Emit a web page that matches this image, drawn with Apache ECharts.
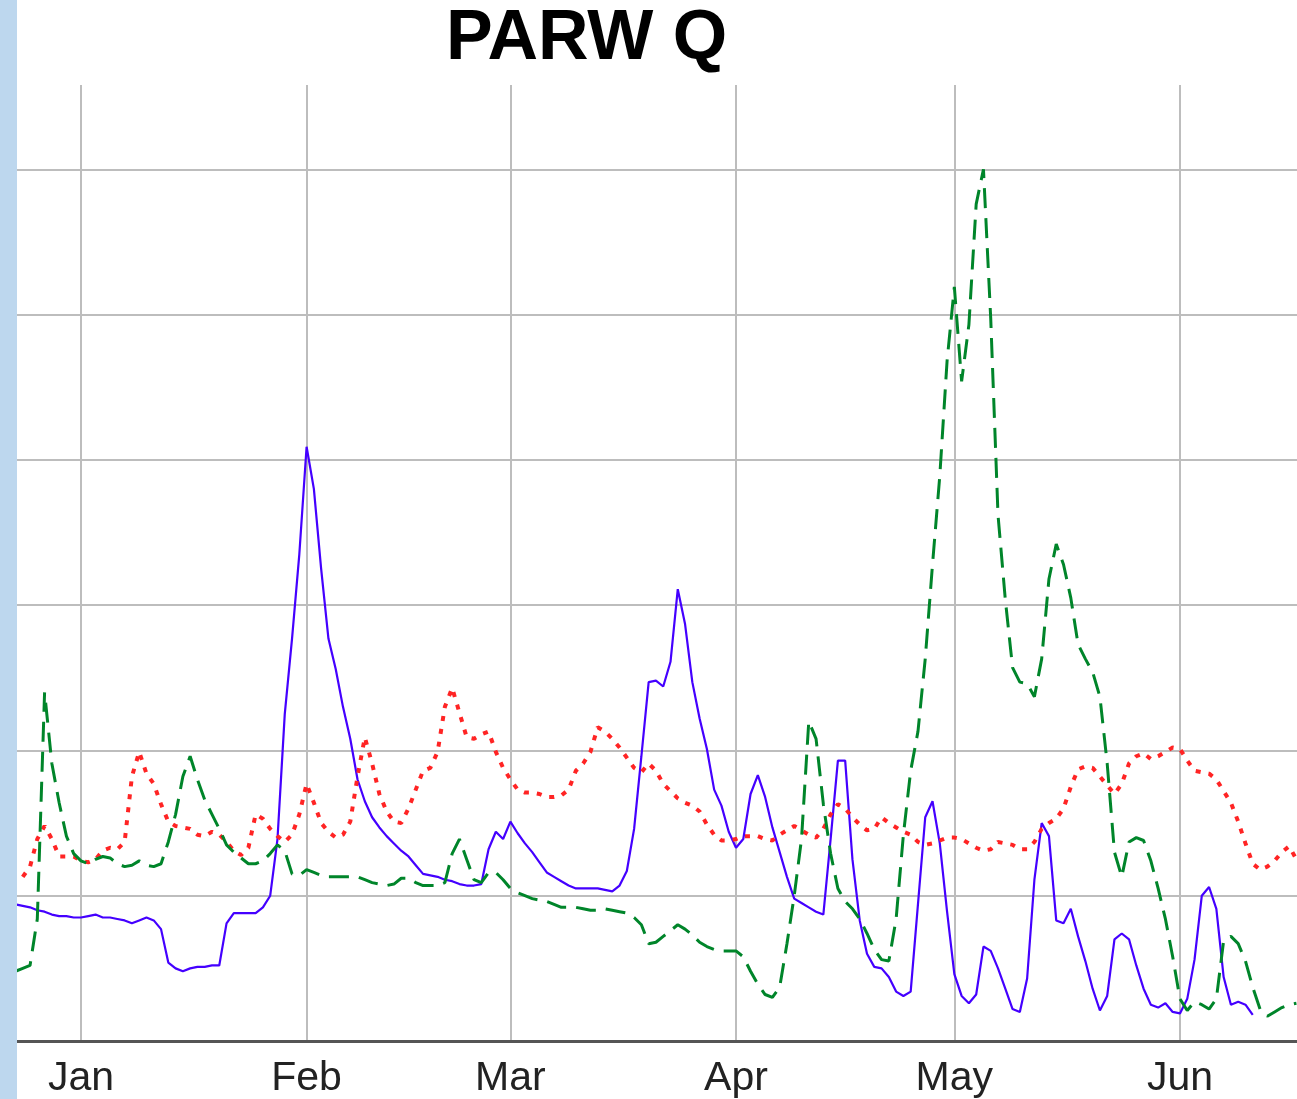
<!DOCTYPE html>
<html><head><meta charset="utf-8">
<script src="https://cdn.jsdelivr.net/npm/echarts@6/dist/echarts.min.js"></script>
<style>html,body{margin:0;padding:0;background:#fff}#chart{width:1297px;height:1099px}</style>
</head><body><div id="chart"></div>
<script>
const TITLE = 'PARW Q';
const START_DAY = [2022, 11, 23];            // first daily sample: Dec 23
const MONTH_TICKS = ['2023-01-01','2023-02-01','2023-03-01','2023-04-01','2023-05-01','2023-06-01'];
const MONTH_NAMES = ['Jan','Feb','Mar','Apr','May','Jun'];
const Y_TICKS = [100, 200, 300, 400, 500, 600];

// daily values, index 0 = Dec 23
const BLUE = [94,93,92,90,89,87,86,86,85,85,
  86,87,85,85,84,83,81,83,85,83,
  77,54,50,48,50,51,51,52,52,81,
  88,88,88,88,92,100,139,225,277,335,
  409,380,325,277,256,230,208,180,165,154,
  147,141,136,131,127,121,115,114,113,111,
  110,108,107,107,108,132,144,139,151,143,
  136,130,123,116,113,110,107,105,105,105,
  105,104,103,107,117,146,196,247,248,244,
  261,311,287,247,222,201,173,162,144,133,
  139,170,183,168,147,130,113,98,95,92,
  89,87,139,193,193,125,83,60,51,50,
  44,34,31,34,94,154,165,136,89,46,
  31,26,32,65,62,50,36,22,20,43,
  111,150,141,83,81,91,72,55,36,21,
  31,70,74,70,52,36,25,23,26,20,
  19,29,56,100,106,91,44,25,27,25,18,
  null,null,null,null,null,null];
const RED = [null,113,120,139,148,139,127,127,127,124,
  123,125,131,133,132,137,182,199,184,177,
  163,151,148,147,146,142,141,144,142,137,
  131,128,133,156,153,146,141,137,142,156,
  177,164,150,144,140,142,151,182,209,191,
  170,158,151,150,160,173,186,188,199,230,
  243,226,209,208,211,213,199,188,180,173,
  171,171,170,168,168,169,173,186,191,199,
  216,213,208,202,195,188,185,191,186,177,
  172,167,164,162,158,149,142,138,138,139,
  141,141,141,139,138,142,145,148,145,142,
  140,146,156,163,160,154,149,145,146,154,
  150,147,144,142,137,135,136,138,140,140,
  139,136,133,131,132,137,136,135,132,132,
  137,146,150,153,160,175,187,189,188,182,
  176,170,177,191,196,198,194,196,199,202,
  201,193,186,185,184,180,172,164,151,136,
  122,118,120,124,130,134,125];
const GREEN = [48,50,52,84,240,191,164,141,129,124,
  122,125,127,126,122,120,121,124,121,120,
  122,137,156,182,196,180,166,156,146,135,
  130,126,122,122,124,129,135,131,115,114,
  118,116,114,113,113,113,113,113,111,109,
  108,107,108,112,112,109,107,107,107,109,
  129,139,125,111,109,116,116,111,105,102,
  100,98,97,96,94,92,92,92,91,90,
  90,91,90,89,88,85,80,67,68,72,
  76,80,77,73,68,65,63,62,62,62,
  58,48,39,32,30,37,67,100,139,220,
  208,163,129,105,96,91,84,74,63,56,
  55,84,142,186,213,263,328,389,468,519,
  454,493,576,600,497,362,304,257,247,246,
  237,263,318,342,328,305,273,263,254,237,
  191,130,113,137,140,138,124,105,84,58,
  29,21,27,25,22,29,69,72,67,55,
  37,22,17,20,23,25,26];

function pad(n){return (n<10?'0':'')+n;}
const DATES = GREEN.map((_, i) => {
  const d = new Date(START_DAY[0], START_DAY[1], START_DAY[2] + i);
  return d.getFullYear() + '-' + pad(d.getMonth()+1) + '-' + pad(d.getDate());
});
function toTs(s){const p=s.split('-');return Date.UTC(+p[0],+p[1]-1,+p[2]);}
const DAY = 86400000;
const JAN1 = toTs('2023-01-01');
const dayOf = s => Math.round((toTs(s) - JAN1) / DAY);   // days since Jan 1
const TICK_DAYS = MONTH_TICKS.map(dayOf);
const pair = arr => DATES.map((d, i) => [dayOf(d), arr[i]]);

const FONT = 'Liberation Sans, Arial, sans-serif';
const chart = echarts.init(document.getElementById('chart'), null, {renderer: 'canvas'});
chart.setOption({
  animation: false,
  backgroundColor: '#ffffff',
  title: {
    text: TITLE, left: 441, top: 0,
    textStyle: {fontFamily: FONT, fontWeight: 'bold', fontSize: 70, color: '#000'}
  },
  graphic: [{type: 'rect', left: 0, top: 0, shape: {width: 17, height: 1099}, style: {fill: '#bdd7ee'}, z: 100}],
  grid: {left: 17, right: 0, top: 85, bottom: 57, containLabel: false},
  xAxis: {
    type: 'value',
    min: -8.79,
    max: 167.08,
    axisLine: {show: true, onZero: false, lineStyle: {color: '#555', width: 3}},
    axisTick: {show: false, customValues: TICK_DAYS},
    axisLabel: {
      customValues: TICK_DAYS,
      formatter: v => MONTH_NAMES[TICK_DAYS.indexOf(v)],
      fontFamily: FONT, fontSize: 41, color: '#222', margin: 17
    },
    splitLine: {show: true, lineStyle: {color: '#bdbdbd', width: 2}}
  },
  yAxis: {
    type: 'value', min: 0, max: 658, interval: 100,
    axisLine: {show: false},
    axisTick: {show: false, customValues: Y_TICKS},
    axisLabel: {show: false, customValues: Y_TICKS},
    splitLine: {show: true, lineStyle: {color: '#bdbdbd', width: 2}}
  },
  series: [
    {name: 'blue', type: 'line', data: pair(BLUE), showSymbol: false, symbol: 'none',
     lineStyle: {color: '#4400ff', width: 2.2}, connectNulls: false},
    {name: 'red', type: 'line', data: pair(RED), showSymbol: false, symbol: 'none',
     lineStyle: {color: '#ff2424', width: 4, type: [5, 8]}},
    {name: 'green', type: 'line', data: pair(GREEN), showSymbol: false, symbol: 'none',
     lineStyle: {color: '#00852a', width: 3, type: [20, 10]}}
  ]
});
</script>
</body></html>
